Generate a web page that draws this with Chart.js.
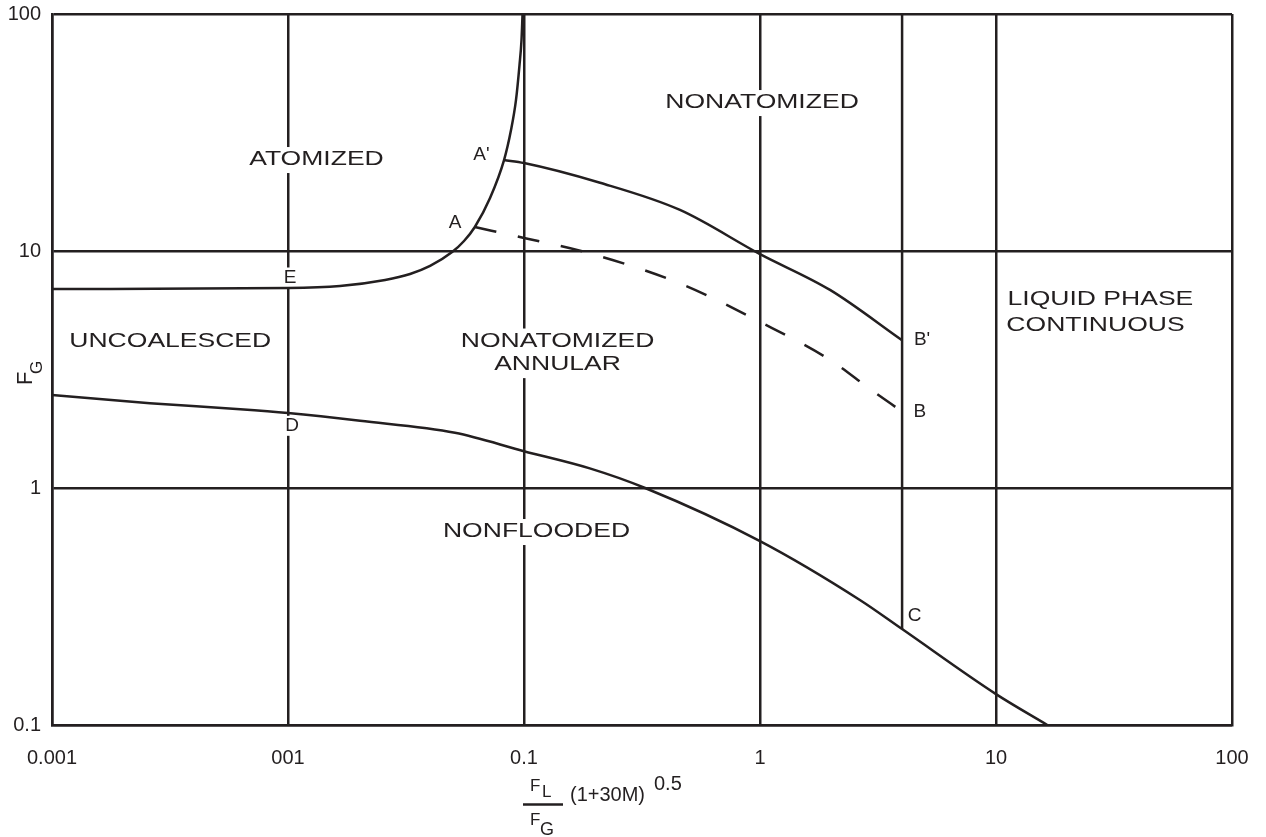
<!DOCTYPE html>
<html>
<head>
<meta charset="utf-8">
<script src="https://cdn.jsdelivr.net/npm/chart.js@4.4.0/dist/chart.umd.min.js"></script>
<style>
  html, body { margin: 0; padding: 0; background: #fff; }
  #wrap { width: 1266px; height: 837px; position: relative; }
</style>
</head>
<body>
<div id="wrap"><canvas id="mapaFluxo"></canvas></div>
<script>
// eixos (log-log)
const xTicks = [0.001, 0.01, 0.1, 1, 10, 100];
const xTickLabels = ["0.001", "001", "0.1", "1", "10", "100"];
const yTicks = [0.1, 1, 10, 100];
const yTickLabels = ["0.1", "1", "10", "100"];

// curva atomizado (E -> topo)
const atomX = [0.001, 0.01, 0.0166, 0.0258, 0.0329, 0.04, 0.0496, 0.0557, 0.0619, 0.0718, 0.0823, 0.0881, 0.0925, 0.0957, 0.0976, 0.0986];
const atomY = [6.91, 6.98, 7.12, 7.55, 8.0, 8.65, 9.9, 11.02, 12.63, 16.74, 24.2, 32.4, 43.4, 60.9, 77.7, 100];

// curva A' - B' (solida)
const abLinhaX = [0.0823, 0.1, 0.21, 0.458, 1.0, 1.98, 4.0];
const abLinhaY = [24.2, 23.5, 19.4, 14.9, 9.7, 6.85, 4.2];

// curva A - B (tracejada)
const abTracoX = [0.0619, 0.1, 0.181, 0.458, 1.0, 1.98, 2.92, 4.0];
const abTracoY = [12.63, 11.35, 9.9, 7.3, 5.02, 3.47, 2.62, 2.1];

// curva inferior D - C
const dcX = [0.001, 0.0026, 0.00627, 0.01, 0.0202, 0.051, 0.1, 0.19, 0.326, 1.0, 2.65, 4.0, 10, 16.5];
const dcY = [2.47, 2.28, 2.15, 2.07, 1.92, 1.71, 1.43, 1.21, 1.0, 0.597, 0.337, 0.254, 0.135, 0.1];

// linha vertical C - topo
const verticalX = [4, 4];
const verticalY = [0.254, 100];

// rotulos das regioes
const regiaoTexto = ["ATOMIZED", "NONATOMIZED", "UNCOALESCED", "NONATOMIZED", "ANNULAR", "LIQUID PHASE", "CONTINUOUS", "NONFLOODED"];
const regiaoX = [0.0132, 1.02, 0.00317, 0.1387, 0.1387, 27.7, 26.4, 0.113];
const regiaoY = [24.2, 42.1, 4.15, 4.15, 3.30, 6.21, 4.85, 0.652];

// rotulos dos pontos
const pontoTexto = ["A'", "A", "E", "D", "B'", "B", "C"];
const pontoX = [0.066, 0.051, 0.0102, 0.0104, 4.86, 4.76, 4.52];
const pontoY = [25.4, 13.2, 7.73, 1.83, 4.23, 2.10, 0.290];

const INK = "#231f20";
const FONT = "'Liberation Sans', Arial, sans-serif";
const ESTICA = 1.36;

function toXY(xs, ys) {
  return xs.map((x, i) => ({ x: x, y: ys[i] }));
}

function px(chart, x, y) {
  return [chart.scales.x.getPixelForValue(x), chart.scales.y.getPixelForValue(y)];
}

const rotulos = {
  id: "rotulos",
  beforeDatasetsDraw(chart) {
    const ctx = chart.ctx;
    ctx.save();
    ctx.fillStyle = "#fff";
    ctx.font = "19.5px " + FONT;
    regiaoTexto.forEach((t, i) => {
      const [x, y] = px(chart, regiaoX[i], regiaoY[i]);
      const w = ctx.measureText(t).width * ESTICA;
      ctx.fillRect(x - w / 2 - 4, y - 13, w + 8, 26);
    });
    ctx.font = "19px " + FONT;
    pontoTexto.forEach((t, i) => {
      const [x, y] = px(chart, pontoX[i], pontoY[i]);
      const w = ctx.measureText(t).width;
      ctx.fillRect(x - w / 2 - 3, y - 10, w + 6, 20);
    });
    ctx.restore();
  },
  afterDatasetsDraw(chart) {
    const ctx = chart.ctx;
    ctx.save();
    ctx.fillStyle = INK;
    ctx.textAlign = "center";
    ctx.textBaseline = "middle";
    ctx.font = "19.5px " + FONT;
    regiaoTexto.forEach((t, i) => {
      const [x, y] = px(chart, regiaoX[i], regiaoY[i]);
      ctx.save();
      ctx.translate(x, y);
      ctx.scale(ESTICA, 1);
      ctx.fillText(t, 0, 0);
      ctx.restore();
    });
    ctx.font = "19px " + FONT;
    pontoTexto.forEach((t, i) => {
      const [x, y] = px(chart, pontoX[i], pontoY[i]);
      ctx.fillText(t, x, y);
    });
    ctx.restore();
  },
  afterDraw(chart) {
    const ctx = chart.ctx;
    ctx.save();
    ctx.fillStyle = INK;
    ctx.strokeStyle = INK;
    ctx.textAlign = "left";
    ctx.textBaseline = "alphabetic";

    // titulo do eixo y: F_G
    ctx.save();
    ctx.translate(32, 385);
    ctx.rotate(-Math.PI / 2);
    ctx.font = "22px " + FONT;
    ctx.fillText("F", 0, 0);
    ctx.font = "17px " + FONT;
    ctx.fillText("G", 11, 10);
    ctx.restore();

    // titulo do eixo x: F_L / F_G (1+30M)^0.5
    ctx.font = "17px " + FONT;
    ctx.fillText("F", 530, 791);
    ctx.fillText("L", 542, 797);
    ctx.fillText("F", 530, 825);
    ctx.font = "18px " + FONT;
    ctx.fillText("G", 540, 835);
    ctx.lineWidth = 2.5;
    ctx.beginPath();
    ctx.moveTo(523, 804.5);
    ctx.lineTo(563, 804.5);
    ctx.stroke();
    ctx.font = "20px " + FONT;
    ctx.fillText("(1+30M)", 570, 801);
    ctx.fillText("0.5", 654, 790);
    ctx.restore();
  }
};

function curva(dados, extra) {
  return Object.assign({
    data: dados,
    showLine: true,
    borderColor: INK,
    borderWidth: 2.5,
    pointRadius: 0,
    fill: false,
    cubicInterpolationMode: "monotone"
  }, extra || {});
}

new Chart("mapaFluxo", {
  type: "scatter",
  data: {
    datasets: [
      curva(toXY(atomX, atomY)),
      curva(toXY(abLinhaX, abLinhaY)),
      curva(toXY(abTracoX, abTracoY), { borderDash: [22, 22] }),
      curva(toXY(dcX, dcY)),
      curva(toXY(verticalX, verticalY), { cubicInterpolationMode: "default", tension: 0 })
    ]
  },
  options: {
    responsive: true,
    maintainAspectRatio: false,
    animation: false,
    events: [],
    layout: { padding: { top: 14, right: 34, left: 0, bottom: 0 } },
    plugins: {
      legend: { display: false },
      tooltip: { enabled: false },
      title: { display: false }
    },
    scales: {
      x: {
        type: "logarithmic",
        min: 0.001,
        max: 100,
        afterBuildTicks: s => { s.ticks = xTicks.map(v => ({ value: v })); },
        afterFit: s => {
          s.height = 112;
          s.paddingLeft = 0;
          s.paddingRight = 0;
        },
        ticks: {
          autoSkip: false,
          maxRotation: 0,
          padding: 21,
          color: INK,
          font: { family: FONT, size: 20 },
          callback: v => xTickLabels[xTicks.indexOf(v)]
        },
        grid: { color: INK, lineWidth: 2.5, drawTicks: false },
        border: { color: INK, width: 2.5 }
      },
      y: {
        type: "logarithmic",
        min: 0.1,
        max: 100,
        afterBuildTicks: s => { s.ticks = yTicks.map(v => ({ value: v })); },
        afterFit: s => {
          s.width = 52;
          s.paddingTop = 0;
          s.paddingBottom = 0;
        },
        ticks: {
          autoSkip: false,
          padding: 11,
          color: INK,
          font: { family: FONT, size: 20 },
          callback: v => yTickLabels[yTicks.indexOf(v)]
        },
        grid: { color: INK, lineWidth: 2.5, drawTicks: false },
        border: { color: INK, width: 2.5 }
      }
    }
  },
  plugins: [rotulos]
});
</script>
</body>
</html>
